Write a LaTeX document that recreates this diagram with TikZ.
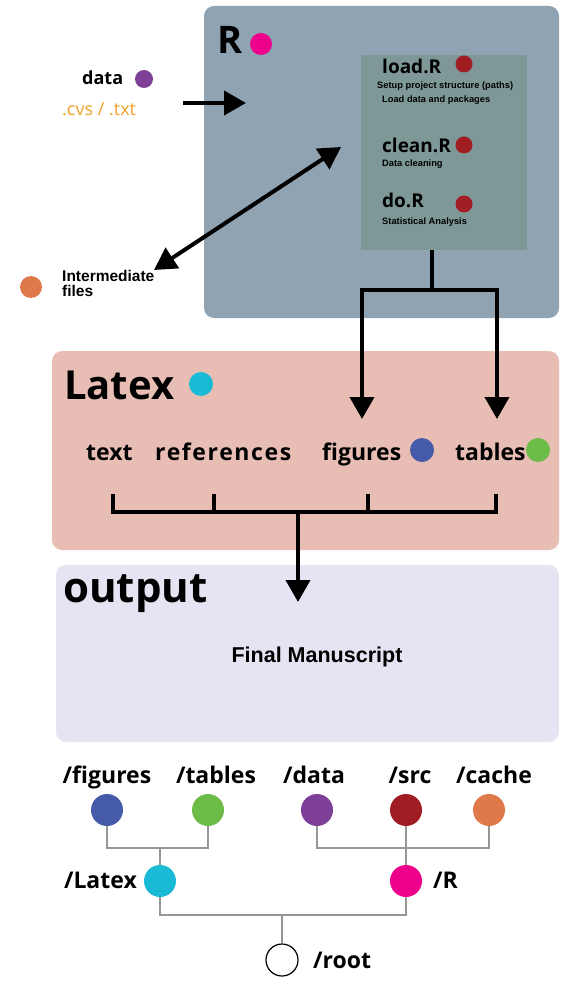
\documentclass[tikz,border=0pt]{standalone}
\usepackage{fontspec}
\setmainfont{Open Sans}
\newfontfamily\arialfont{Liberation Sans}
\usetikzlibrary{arrows.meta,positioning}
\definecolor{rpanelcol}{RGB}{143,163,179}
\definecolor{scriptcol}{RGB}{126,152,152}
\definecolor{latexpanelcol}{RGB}{232,189,180}
\definecolor{outpanelcol}{RGB}{228,228,242}
\definecolor{pinkcol}{RGB}{236,0,140}
\definecolor{cyancol}{RGB}{25,186,214}
\definecolor{srccol}{RGB}{160,30,35}
\definecolor{figcol}{RGB}{69,90,168}
\definecolor{tabcol}{RGB}{108,188,72}
\definecolor{datacol}{RGB}{125,63,152}
\definecolor{cachecol}{RGB}{224,121,74}
\definecolor{extcol}{RGB}{240,160,40}
\definecolor{treecol}{RGB}{150,150,150}
\tikzset{
  lbl/.style={inner sep=0pt, anchor=base west, font=\bfseries\fontsize{#1}{#1}\selectfont},
  small/.style={inner sep=0pt, anchor=base west, font=\arialfont\bfseries\fontsize{#1}{#1}\selectfont},
  dot/.style={circle, inner sep=0pt, minimum size=#1, draw=none},
  bigarrow/.style={line width=4pt, -{Triangle[length=22pt,width=24pt]}},
  bracket/.style={line width=4pt},
  treeline/.style={draw=treecol, line width=2.2pt},
}
\begin{document}
\begin{tikzpicture}[x=1pt,y=-1pt]
\useasboundingbox (0,0) rectangle (574,1000);
% panels
\fill[rpanelcol, rounded corners=10pt] (204,6) rectangle (559,318);
\fill[latexpanelcol, rounded corners=10pt] (52,351) rectangle (559,550);
\fill[outpanelcol, rounded corners=10pt] (56,565) rectangle (559,742);
\node[fill=scriptcol, inner sep=0pt, minimum width=166pt, minimum height=195pt] (scripts) at (444,152.5) {};

% R panel
\node[lbl=38] (rtitle) at (217,54) {R};
\node[dot=22pt, fill=pinkcol] (rtitledot) at (261,44) {};
\node[lbl=19] (load) at (382,74) {load.R};
\node[dot=17pt, fill=srccol] (loaddot) at (464,64) {};
\node[small=9.3] (setup) at (377,89) {Setup project structure (paths)};
\node[small=9.3] (loaddata) at (382,103) {Load data and packages};
\node[lbl=19] (clean) at (382,153) {clean.R};
\node[dot=17pt, fill=srccol] (cleandot) at (464,145) {};
\node[small=9.3] (cleaning) at (382,167) {Data cleaning};
\node[lbl=19] (dor) at (382,208) {do.R};
\node[dot=17pt, fill=srccol] (dodot) at (464,204) {};
\node[small=9.3] (stats) at (382,225) {Statistical Analysis};

% inputs
\node[lbl=18] (datain) at (82,85) {data};
\node[dot=18pt, fill=datacol] (dataindot) at (144,79) {};
\node[inner sep=0pt, anchor=base west, font=\fontsize{18}{18}\selectfont, text=extcol] (ext) at (62,116) {.cvs / .txt};
\coordinate (datafrom) at (183,103);
\coordinate (datato) at (246,103);
\draw[bigarrow] (datafrom) -- (datato);
\node[dot=22pt, fill=cachecol] (interdot) at (31,287) {};
\node[small=15.5] (inter) at (62,281) {Intermediate};
\node[small=15.5] (interfiles) at (62,296) {files};
\coordinate (interend) at (154,270);
\coordinate (rend) at (341,147);
\draw[line width=4pt, {Triangle[length=22pt,width=24pt]}-{Triangle[length=22pt,width=24pt]}] (interend) -- (rend);

% R to Latex
\coordinate (split) at (432,290);
\coordinate (figtip) at (362,419);
\coordinate (tabtip) at (497,419);
\draw[bracket] (scripts.south -| split) -- (split);
\draw[bigarrow] (split) -| (figtip);
\draw[bigarrow] (split) -| (tabtip);

% Latex panel
\node[lbl=40] (latextitle) at (64,399) {Latex};
\node[dot=24pt, fill=cyancol] (latextitledot) at (201,384) {};
\node[lbl=23] (txt) at (86,460) {text};
\node[lbl=23] (refs) at (155,460) {\addfontfeature{LetterSpace=7}references};
\node[lbl=23] (figs) at (322,460) {figures};
\node[dot=24pt, fill=figcol] (figsdot) at (422,450) {};
\node[lbl=23] (tabs) at (455,460) {tables};
\node[dot=24pt, fill=tabcol] (tabsdot) at (538,450) {};
\coordinate (brtext) at (113,494);
\coordinate (brrefs) at (214,494);
\coordinate (brfigs) at (368,494);
\coordinate (brtabs) at (496,494);
\coordinate (brbar) at (113,512);
\draw[bracket] (brtext) -- (brbar) -| (brtabs);
\draw[bracket] (brrefs) -- (brrefs |- brbar);
\draw[bracket] (brfigs) -- (brfigs |- brbar);
\coordinate (brstem) at (298,512);
\coordinate (outtip) at (298,602);
\draw[bigarrow] (brstem) -- (outtip);

% output panel
\node[lbl=42] (outtitle) at (63,602) {output};
\node[small=21.5, anchor=base] (final) at (317,662) {Final Manuscript};

% folder tree
\node[dot=32pt, fill=figcol] (figdot) at (107,810) {};
\node[dot=32pt, fill=tabcol] (tabdot) at (208,810) {};
\node[dot=32pt, fill=datacol] (datadot) at (317,810) {};
\node[dot=32pt, fill=srccol] (srcdot) at (406,810) {};
\node[dot=32pt, fill=cachecol] (cachedot) at (489,810) {};
\node[dot=32pt, fill=cyancol] (latexdot) at (160,881) {};
\node[dot=32pt, fill=pinkcol] (rdot) at (406,881) {};
\node[dot=32pt, draw=black, line width=1.2pt, fill=white] (rootdot) at (282,960) {};
\node[lbl=23, anchor=base] at (107,783) {/figures};
\node[lbl=23, anchor=base] at (216,783) {/tables};
\node[lbl=23, anchor=base] at (314,783) {/data};
\node[lbl=23, anchor=base] at (410,783) {/src};
\node[lbl=23, anchor=base] at (494,783) {/cache};
\node[lbl=23, anchor=base east] at (137,888) {/Latex};
\node[lbl=23] at (433,888) {/R};
\node[lbl=23] at (313,968) {/root};
\coordinate (latexjoin) at (160,848);
\coordinate (rjoin) at (406,848);
\coordinate (rootjoin) at (282,915);
\draw[treeline] (figdot.south) |- (latexjoin) -| (tabdot.south);
\draw[treeline] (latexjoin) -- (latexdot.north);
\draw[treeline] (datadot.south) |- (rjoin) -| (cachedot.south);
\draw[treeline] (srcdot.south) -- (rdot.north);
\draw[treeline] (latexdot.south) |- (rootjoin) -| (rdot.south);
\draw[treeline] (rootjoin) -- (rootdot.north);
\end{tikzpicture}
\end{document}
